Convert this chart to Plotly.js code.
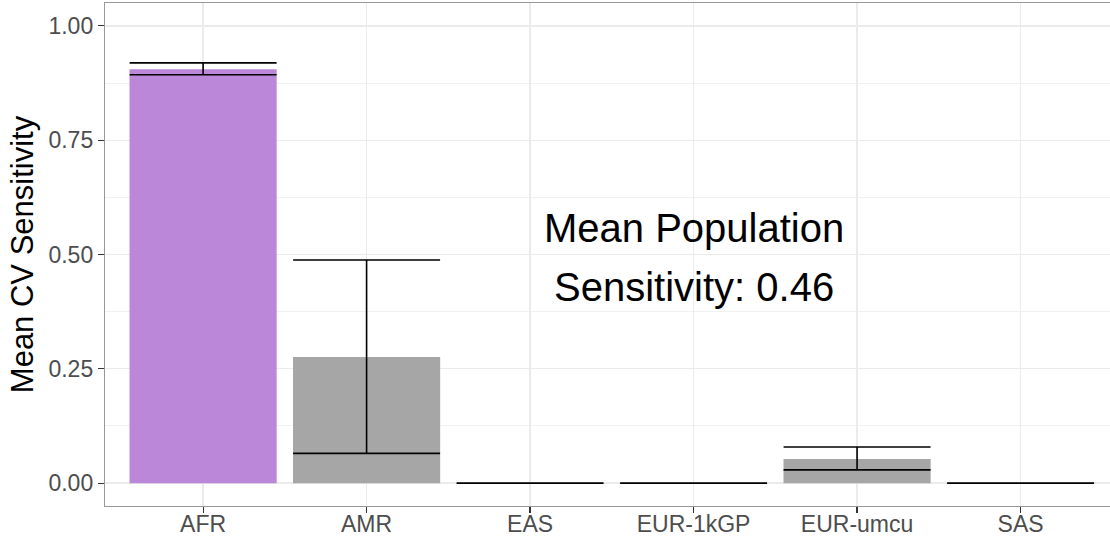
<!DOCTYPE html>
<html>
<head>
<meta charset="utf-8">
<script src="https://cdn.plot.ly/plotly-3.0.1.min.js"></script>
<style>html,body{margin:0;padding:0;background:#fff;}#chart{width:1110px;height:539px;}</style>
</head>
<body>
<div id="chart"></div>
<script>
const categories = ["AFR", "AMR", "EAS", "EUR-1kGP", "EUR-umcu", "SAS"];
const meanSensitivity = [0.905, 0.276, 0, 0, 0.053, 0];
const upperBound = [0.919, 0.488, 0, 0, 0.079, 0];
const lowerBound = [0.893, 0.065, 0, 0, 0.029, 0];
const barColors = ["#BA87D9", "#A6A6A6", "#A6A6A6", "#A6A6A6", "#A6A6A6", "#A6A6A6"];
const yTicks = [0, 0.25, 0.5, 0.75, 1.0];
const annotationLines = ["Mean Population", "Sensitivity: 0.46"];

const errPlus = upperBound.map((u, i) => u - meanSensitivity[i]);
const errMinus = lowerBound.map((l, i) => meanSensitivity[i] - l);

const trace = {
  type: "bar",
  x: categories,
  y: meanSensitivity,
  width: 0.9,
  marker: { color: barColors, line: { width: 0 } },
  error_y: {
    type: "data",
    symmetric: false,
    array: errPlus,
    arrayminus: errMinus,
    color: "#000000",
    thickness: 1.6,
    width: 73.5,
    visible: true
  },
  hoverinfo: "skip"
};

const layout = {
  width: 1110,
  height: 539,
  margin: { l: 105, r: 0, t: 3, b: 33, pad: 0 },
  paper_bgcolor: "#ffffff",
  plot_bgcolor: "#ffffff",
  font: { family: "Liberation Sans, Arial, sans-serif", color: "#4D4D4D" },
  showlegend: false,
  bargap: 0.1,
  xaxis: {
    type: "category",
    range: [-0.6, 5.547],
    showgrid: true,
    gridcolor: "#EBEBEB",
    gridwidth: 1.3,
    showline: true,
    linecolor: "#999999",
    linewidth: 1.2,
    mirror: true,
    ticks: "outside",
    ticklen: 6,
    tickwidth: 1.2,
    tickcolor: "#333333",
    ticklabelstandoff: -9,
    tickfont: { size: 23, color: "#4D4D4D" },
    zeroline: false,
    fixedrange: true
  },
  yaxis: {
    range: [-0.05, 1.05],
    tickvals: yTicks,
    tickformat: ".2f",
    showgrid: true,
    gridcolor: "#EBEBEB",
    gridwidth: 1.3,
    minor: { dtick: 0.125, showgrid: true, gridcolor: "#F1F1F1", gridwidth: 1 },
    showline: true,
    linecolor: "#999999",
    linewidth: 1.2,
    mirror: true,
    ticks: "outside",
    ticklen: 6,
    tickwidth: 1.2,
    tickcolor: "#333333",
    tickfont: { size: 23, color: "#4D4D4D" },
    zeroline: false,
    title: { text: "Mean CV Sensitivity", font: { size: 31, color: "#000000" }, standoff: 5 },
    fixedrange: true
  },
  annotations: [
    { x: 3, y: 0.558, xref: "x", yref: "y", text: annotationLines[0], showarrow: false,
      xanchor: "center", yanchor: "middle", font: { size: 40, color: "#000000" } },
    { x: 3, y: 0.429, xref: "x", yref: "y", text: annotationLines[1], showarrow: false,
      xanchor: "center", yanchor: "middle", font: { size: 40, color: "#000000" } }
  ]
};

Plotly.newPlot("chart", [trace], layout, { displayModeBar: false, staticPlot: true });
</script>
</body>
</html>
